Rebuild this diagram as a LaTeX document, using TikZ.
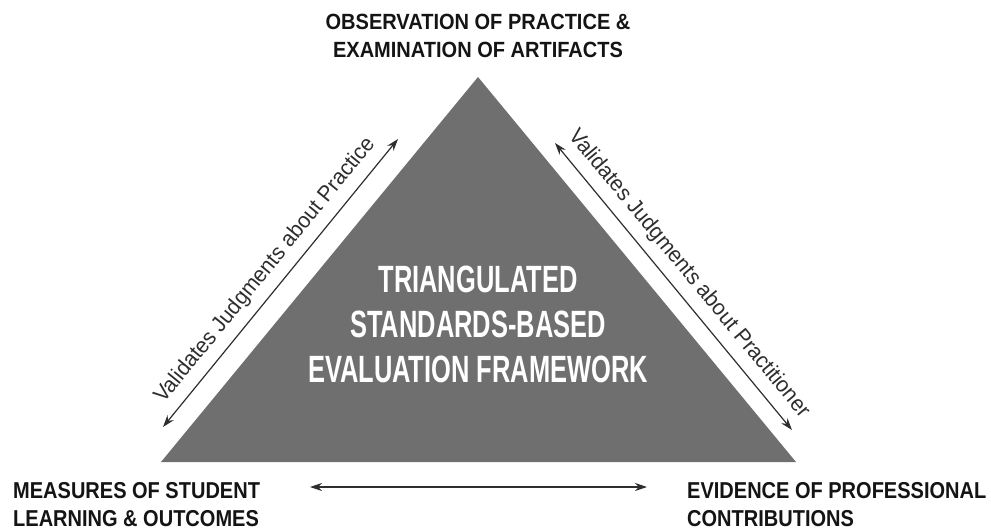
\documentclass[tikz,border=0pt]{standalone}
\usepackage{fontspec}
\setmainfont{Liberation Sans}
\newfontfamily\topfont[FakeStretch=0.91]{Liberation Sans}
\newfontfamily\headfont[FakeStretch=0.87]{Liberation Sans}
\newfontfamily\centfont[FakeStretch=0.67]{Liberation Sans}
\newfontfamily\sidefont[FakeStretch=0.96]{Liberation Sans}
\usetikzlibrary{arrows.meta}
\definecolor{trigray}{HTML}{6F6F6F}
\definecolor{ink}{HTML}{141414}
\definecolor{arrowink}{HTML}{2E2E2E}
\tikzset{
  tri/.style={fill=trigray},
  toplabel/.style={inner sep=0pt, text=ink, font=\topfont\bfseries\fontsize{22}{28}\selectfont},
  cornerlabel/.style={inner sep=0pt, text=ink, font=\headfont\bfseries\fontsize{23}{28}\selectfont},
  centrelabel/.style={inner sep=0pt, text=white, align=center, font=\centfont\bfseries\fontsize{38}{45}\selectfont},
  sidelabel/.style={inner sep=0pt, text=arrowink, font=\sidefont\fontsize{22}{24}\selectfont},
  twoway/.style={draw=arrowink, line width=1.2pt, {Stealth[length=12pt,width=8pt]}-{Stealth[length=12pt,width=8pt]}}
}
\begin{document}
\begin{tikzpicture}[x=1pt,y=1pt]
\useasboundingbox (0,0) rectangle (991,531);
\coordinate (A) at (478,454);
\coordinate (B) at (161,69);
\coordinate (C) at (796,69);
\fill[tri] (A) -- (B) -- (C) -- cycle;
\node[centrelabel, anchor=north] (core) at (478,265) {TRIANGULATED\\STANDARDS-BASED\\EVALUATION FRAMEWORK};
\node[toplabel, align=center, anchor=north] (obs) at (478,517) {OBSERVATION OF PRACTICE \&\\EXAMINATION OF ARTIFACTS};
\node[cornerlabel, align=left, anchor=north west] (meas) at (13,49) {MEASURES OF STUDENT\\LEARNING \& OUTCOMES};
\node[cornerlabel, align=left, anchor=north west] (evid) at (687,49) {EVIDENCE OF PROFESSIONAL\\CONTRIBUTIONS};
\coordinate (l1) at (163,104);
\coordinate (l2) at (398,392);
\coordinate (r1) at (555,388);
\coordinate (r2) at (792,101);
\coordinate (b1) at (310,44);
\coordinate (b2) at (647,44);
\draw[twoway] (l1) -- node[sidelabel, sloped, above=9pt] (lpr) {Validates Judgments about Practice} (l2);
\draw[twoway] (r1) -- node[sidelabel, sloped, above=9pt] (rpr) {Validates Judgments about Practitioner} (r2);
\draw[twoway] (b1) -- (b2);
\end{tikzpicture}
\end{document}
